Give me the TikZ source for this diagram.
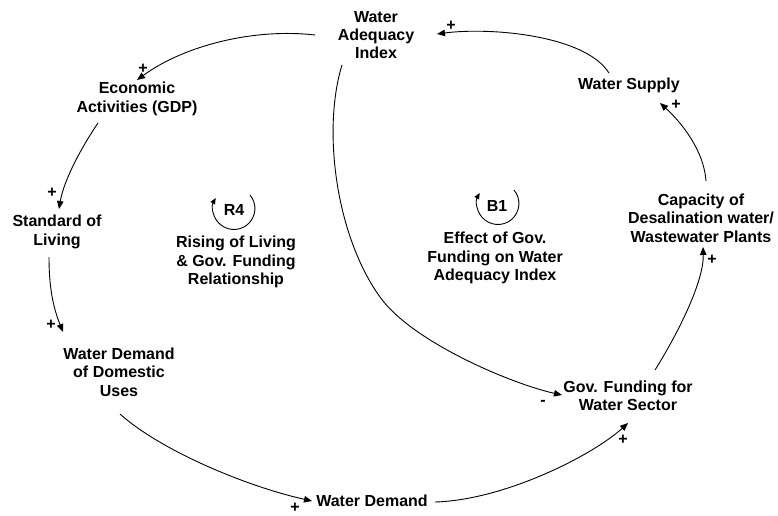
\documentclass[tikz,border=0pt]{standalone}
\usepackage{fontspec}
\setmainfont{Liberation Sans}
\usetikzlibrary{arrows.meta,calc}

\begin{document}
\begin{tikzpicture}[x=1pt,y=-1pt,
  var/.style={font=\bfseries\fontsize{16}{18.4}\selectfont, align=center, inner sep=0pt},
  pol/.style={font=\bfseries\fontsize{16}{16}\selectfont, inner sep=0pt},
  link/.style={line width=0.9pt, -{Triangle[length=8pt,width=6.5pt]}},
  loopmark/.style={line width=0.9pt, -{Triangle[length=6pt,width=5pt]}}
]
\useasboundingbox (0,0) rectangle (778,515);

% variables
\node[var] (wai)    at (376,35)  {Water\\Adequacy\\Index};
\node[var] (supply) at (629,85)  {Water Supply};
\node[var] (gdp)    at (137,99)  {Economic\\Activities (GDP)};
\node[var] (sol)    at (57,232)  {Standard of\\Living};
\node[var] (wdd)    at (119,372) {Water Demand\\of Domestic\\Uses};
\node[var] (wd)     at (372,501) {Water Demand};
\node[var] (fund)   at (628,396) {Gov. Funding for\\Water Sector};
\node[var] (cap)    at (701,218) {Capacity of\\Desalination water/\\Wastewater Plants};

% loop identifiers
\node[var] (r4)  at (234,210) {R4};
\node[var] (r4t) at (236,262) {Rising of Living\\\& Gov. Funding\\Relationship};
\node[var] (b1)  at (497,206) {B1};
\node[var] (b1t) at (495,258) {Effect of Gov.\\Funding on Water\\Adequacy Index};
\draw[loopmark] ($(r4)+(16,-15)$) arc[start angle=-40, end angle=210, radius=21];
\draw[loopmark] ($(b1)+(17,-16)$) arc[start angle=-40, end angle=210, radius=21];

% causal links
\draw[link] ($(wai)+(-61,0)$) .. controls +(-60,-7) and +(48,-35) .. ($(gdp)+(0,-19)$);
\draw[link] ($(gdp)+(-39,24)$) .. controls +(-15,22) and +(5,-30) .. ($(sol)+(2,-23)$);
\draw[link] ($(sol)+(-8,25)$) .. controls +(0,30) and +(-10,-25) .. ($(wdd)+(-56,-40)$);
\draw[link] ($(wdd)+(1,42)$) .. controls +(40,36) and +(-67,-15) .. ($(wd)+(-60,0)$);
\draw[link] ($(wd)+(63,1)$) .. controls +(70,-2) and +(-35,32) .. ($(fund)+(0,27)$);
\draw[link] ($(wai)+(-34,30)$) .. controls (322,130) and (336,236) .. (380,297)
            .. controls (412,342) and (512,384) .. ($(fund)+(-66,-1)$);
\draw[link] ($(fund)+(27,-26)$) .. controls +(25,-40) and +(1,33) .. ($(cap)+(2,29)$);
\draw[link] ($(cap)+(5,-37)$) .. controls +(-2,-30) and +(22,20) .. ($(supply)+(31,18)$);
\draw[link] ($(supply)+(-20,-12)$) .. controls +(-24,-38) and +(53,-7) .. ($(wai)+(61,-1)$);

% link polarities
\node[pol] (p1) at (143,69)  {+};
\node[pol] (p2) at (52,193)  {+};
\node[pol] (p3) at (51,325)  {+};
\node[pol] (p4) at (295,508) {+};
\node[pol] (p5) at (623,440) {+};
\node[pol] (p6) at (543,403) {-};
\node[pol] (p7) at (712,260) {+};
\node[pol] (p8) at (676,105) {+};
\node[pol] (p9) at (451,26)  {+};
\end{tikzpicture}
\end{document}
